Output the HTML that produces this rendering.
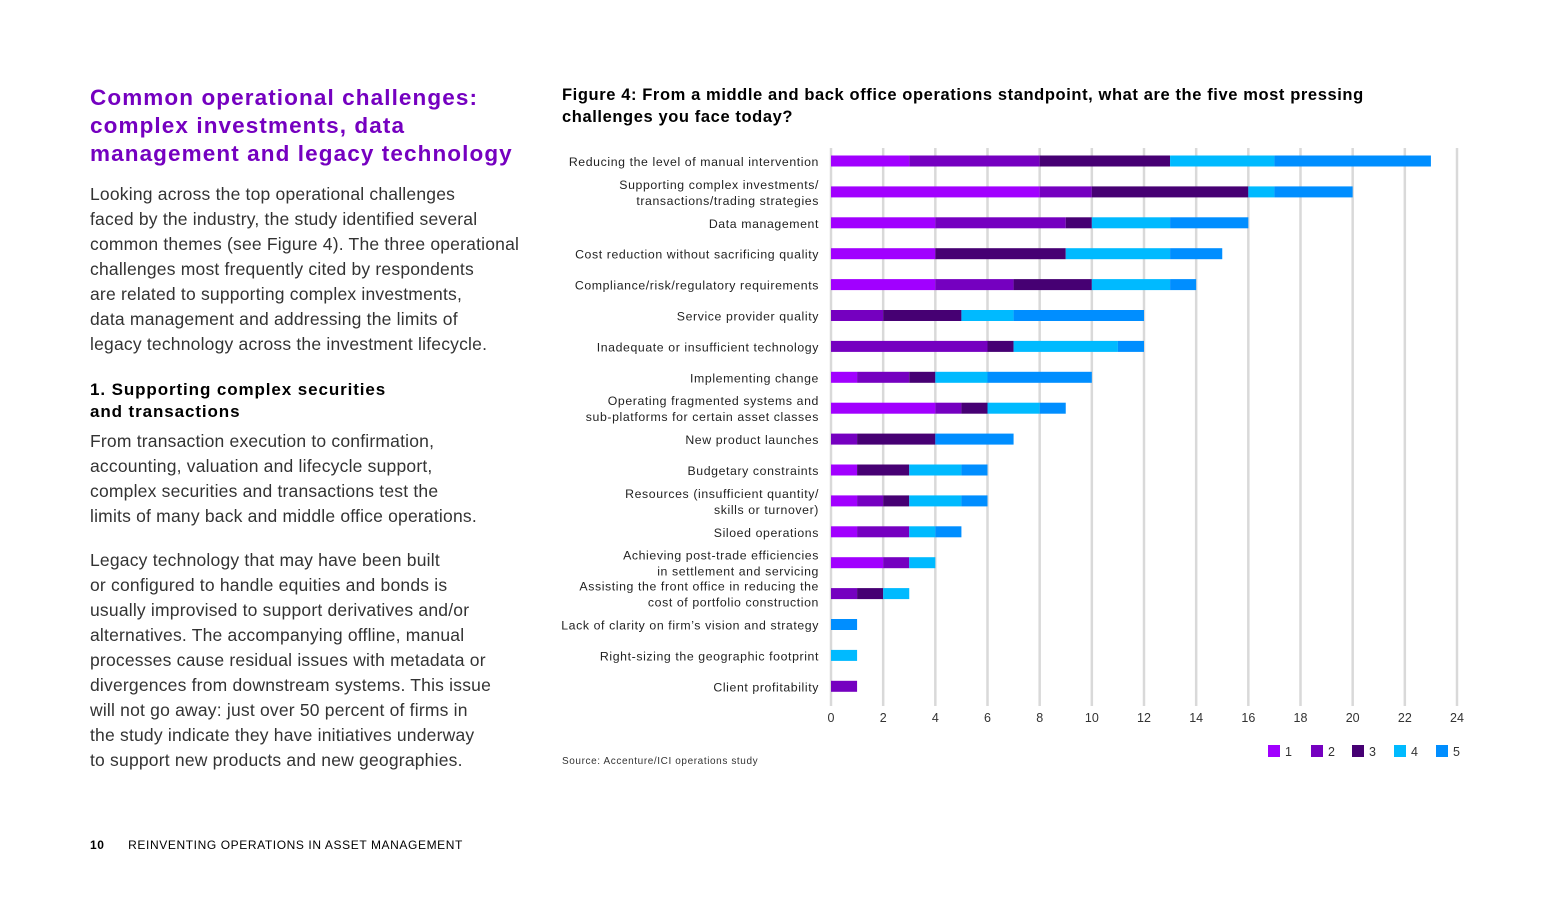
<!DOCTYPE html>
<html><head><meta charset="utf-8">
<style>
body{margin:0;width:1559px;height:898px;background:#fff;position:relative;overflow:hidden;font-family:"Liberation Sans",sans-serif;}
.abs{position:absolute;white-space:nowrap;}
#h1{left:90px;top:84px;font-size:22.5px;font-weight:bold;color:#7500c0;line-height:28px;letter-spacing:1.1px;}
.body{left:90px;font-size:17.5px;color:#333;line-height:25px;letter-spacing:0.2px;}
#sub{left:90px;top:379px;font-size:17px;font-weight:bold;color:#000;line-height:22px;letter-spacing:0.9px;}
#ftitle{left:562px;top:84px;font-size:16.5px;font-weight:bold;color:#000;line-height:22px;letter-spacing:0.6px;}
#source{left:562px;top:756px;font-size:10px;color:#333;letter-spacing:0.6px;}
#footer{left:90px;top:838px;font-size:12px;color:#000;letter-spacing:0.6px;}
svg{position:absolute;left:0;top:0;}
</style></head><body>
<div class="abs" id="h1">Common operational challenges:<br>complex investments, data<br>management and legacy technology</div>
<div class="abs body" style="top:182px">Looking across the top operational challenges<br>faced by the industry, the study identified several<br>common themes (see Figure 4). The three operational<br>challenges most frequently cited by respondents<br>are related to supporting complex investments,<br>data management and addressing the limits of<br>legacy technology across the investment lifecycle.</div>
<div class="abs" id="sub">1. Supporting complex securities<br>and transactions</div>
<div class="abs body" style="top:429px">From transaction execution to confirmation,<br>accounting, valuation and lifecycle support,<br>complex securities and transactions test the<br>limits of many back and middle office operations.</div>
<div class="abs body" style="top:548px">Legacy technology that may have been built<br>or configured to handle equities and bonds is<br>usually improvised to support derivatives and/or<br>alternatives. The accompanying offline, manual<br>processes cause residual issues with metadata or<br>divergences from downstream systems. This issue<br>will not go away: just over 50 percent of firms in<br>the study indicate they have initiatives underway<br>to support new products and new geographies.</div>
<div class="abs" id="ftitle">Figure 4: From a middle and back office operations standpoint, what are the five most pressing<br>challenges you face today?</div>
<div class="abs" id="source">Source: Accenture/ICI operations study</div>
<div class="abs" id="footer"><b>10</b>&nbsp;&nbsp;&nbsp;&nbsp;&nbsp;&nbsp;REINVENTING OPERATIONS IN ASSET MANAGEMENT</div>
<svg id="chart" width="1559" height="898"></svg>
<script>
const categories=[
["Reducing the level of manual intervention"],
["Supporting complex investments/","transactions/trading strategies"],
["Data management"],
["Cost reduction without sacrificing quality"],
["Compliance/risk/regulatory requirements"],
["Service provider quality"],
["Inadequate or insufficient technology"],
["Implementing change"],
["Operating fragmented systems and","sub-platforms for certain asset classes"],
["New product launches"],
["Budgetary constraints"],
["Resources (insufficient quantity/","skills or turnover)"],
["Siloed operations"],
["Achieving post-trade efficiencies","in settlement and servicing"],
["Assisting the front office in reducing the","cost of portfolio construction"],
["Lack of clarity on firm\u2019s vision and strategy"],
["Right-sizing the geographic footprint"],
["Client profitability"]];
const rank1=[3,8,4,4,4,0,0,1,4,0,1,1,1,2,0,0,0,0];
const rank2=[5,2,5,0,3,2,6,2,1,1,0,1,2,1,1,0,0,1];
const rank3=[5,6,1,5,3,3,1,1,1,3,2,1,0,0,1,0,0,0];
const rank4=[4,1,3,4,3,2,4,2,2,0,2,2,1,1,1,0,1,0];
const rank5=[6,3,3,2,1,5,1,4,1,3,1,1,1,0,0,1,0,0];
const seriesNames=["1","2","3","4","5"];
const ticks=[0,2,4,6,8,10,12,14,16,18,20,22,24];
const colors=["#a100ff","#7500c0","#460073","#00baff","#008eff"];
const series=[rank1,rank2,rank3,rank4,rank5];
const svg=document.getElementById('chart');const NS="http://www.w3.org/2000/svg";
const x=v=>831+v*(1457-831)/24;
const y=i=>161+i*30.9;
function mk(t,a){const e=document.createElementNS(NS,t);for(const k in a)e.setAttribute(k,a[k]);svg.appendChild(e);return e;}
ticks.forEach(t=>{
 const g=mk('line',{x1:x(t),x2:x(t),y1:148,y2:706,stroke:'#d9d9d9','stroke-width':2.5});
 
 
 const l=mk('text',{x:x(t),y:722,'font-size':12.5,'text-anchor':'middle',fill:'#333','font-family':'Liberation Sans, sans-serif'});
 l.textContent=t;
 
 
});
categories.forEach((c,i)=>{
 const cy=y(i);
 const t=mk('text',{x:819,'font-size':12.3,'text-anchor':'end',fill:'#222','letter-spacing':0.6,'font-family':'Liberation Sans, sans-serif'});
 
 
 c.forEach((ln,j)=>{const s=document.createElementNS(NS,'tspan');s.setAttribute('x',819);s.setAttribute('y',cy+5+(c.length>1?(j-0.5)*16:0));s.textContent=ln;t.appendChild(s);});
 let acc=0;
 series.forEach((s,k)=>{
  if(s[i]>0){const r=mk('rect',{x:x(acc),y:cy-5.5,width:x(acc+s[i])-x(acc),height:11,fill:colors[k]});
  
  }
  acc+=s[i];
 });
});
const lx=[1268,1311,1352,1394,1436];
seriesNames.forEach((n,k)=>{
 const r=mk('rect',{x:lx[k],y:745,width:12,height:12,fill:colors[k]});
 
 
 const t=mk('text',{x:lx[k]+17,y:756,'font-size':12.5,fill:'#333','font-family':'Liberation Sans, sans-serif'});
 t.textContent=n;
 
 
});
</script>
</body></html>
